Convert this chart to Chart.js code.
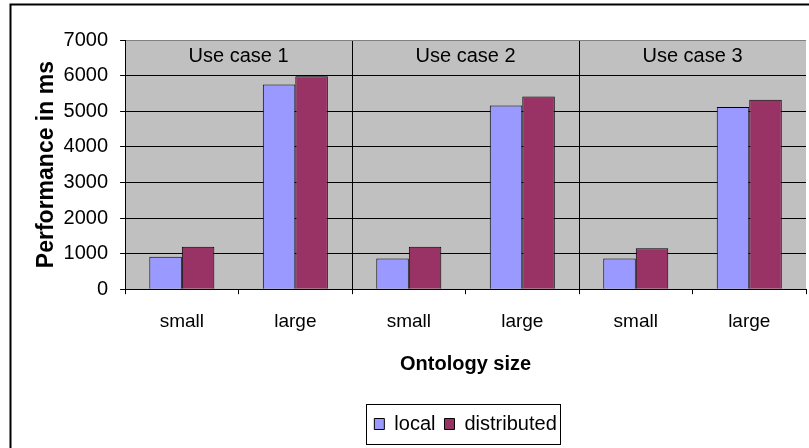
<!DOCTYPE html>
<html>
<head>
<meta charset="utf-8">
<script src="https://cdn.jsdelivr.net/npm/chart.js@4"></script>
<style>
  html, body { margin: 0; padding: 0; background: #fff; overflow: hidden; }
  #wrap { width: 809px; height: 448px; position: relative; }
</style>
</head>
<body>
<div id="wrap"><canvas id="myChart"></canvas></div>
<script>
const labels = ['small', 'large', 'small', 'large', 'small', 'large'];
const useCases = ['Use case 1', 'Use case 2', 'Use case 3'];
const local = [910, 5750, 860, 5160, 860, 5120];
const distributed = [1190, 5980, 1190, 5410, 1150, 5320];
const yMax = 7000;
const yStep = 1000;

const font = 'Liberation Sans, Arial, sans-serif';

// grey plot area
const plotBg = {
    id: 'plotBg',
    beforeDraw(chart) {
        const a = chart.chartArea, ctx = chart.ctx;
        ctx.save();
        ctx.fillStyle = '#c0c0c0';
        ctx.fillRect(a.left, a.top, a.right - a.left, a.bottom - a.top);
        ctx.restore();
    }
};

// "Use case n" headers + outer frame + legend box
const extras = {
    id: 'extras',
    afterDraw(chart) {
        const ctx = chart.ctx, a = chart.chartArea, x = chart.scales.x;
        ctx.save();
        ctx.fillStyle = '#000';
        ctx.font = '20px ' + font;
        ctx.textAlign = 'center';
        ctx.textBaseline = 'middle';
        useCases.forEach((u, i) => {
            const cx = (x.getPixelForValue(2 * i) + x.getPixelForValue(2 * i + 1)) / 2;
            ctx.fillText(u, cx, a.top + 16);
        });

        // outer chart frame
        ctx.strokeStyle = '#000';
        ctx.lineWidth = 2;
        ctx.beginPath();
        ctx.moveTo(10.5, 460);
        ctx.lineTo(10.5, 4.5);
        ctx.lineTo(820, 4.5);
        ctx.stroke();

        // legend frame
        const hb = chart.legend.legendHitBoxes;
        if (hb && hb.length) {
            const l = Math.min(...hb.map(h => h.left)) - 8;
            const r = Math.max(...hb.map(h => h.left + h.width)) + 4;
            const cy = hb[0].top + hb[0].height / 2;
            ctx.lineWidth = 1;
            ctx.strokeStyle = '#000';
            ctx.strokeRect(Math.round(l) + 0.5, Math.round(cy - 20) + 0.5, Math.round(r - l), 40);
        }
        ctx.restore();
    }
};

const data = {
    labels: labels,
    datasets: [{
        label: 'local',
        data: local,
        backgroundColor: '#9999ff',
        borderColor: '#000',
        borderWidth: 1
    }, {
        label: 'distributed',
        data: distributed,
        backgroundColor: '#993366',
        borderColor: '#000',
        borderWidth: 1
    }]
};

const config = {
    type: 'bar',
    data: data,
    plugins: [plotBg, extras],
    options: {
        responsive: true,
        maintainAspectRatio: false,
        animation: false,
        layout: { padding: { left: 33, right: 3, top: 40, bottom: 4 } },
        datasets: {
            bar: { categoryPercentage: 0.573, barPercentage: 1 }
        },
        scales: {
            x: {
                offset: true,
                grid: {
                    offset: true,
                    drawOnChartArea: true,
                    color: ctx => (ctx.index === 2 || ctx.index === 4) ? '#000' : (ctx.index === labels.length ? '#808080' : 'rgba(0,0,0,0)'),
                    tickColor: '#000',
                    tickLength: 5
                },
                border: { color: '#000' },
                ticks: { color: '#000', font: { family: font, size: 19 }, padding: 16 },
                title: {
                    display: true,
                    text: 'Ontology size',
                    color: '#000',
                    font: { family: font, size: 20, weight: 'bold' },
                    padding: { top: 3, bottom: 29 }
                }
            },
            y: {
                min: 0,
                max: yMax,
                ticks: {
                    stepSize: yStep,
                    color: '#000',
                    font: { family: font, size: 20 },
                    padding: 12,
                    callback: v => String(v)
                },
                grid: {
                    color: ctx => (ctx.tick && ctx.tick.value === yMax) ? '#808080' : '#000',
                    tickColor: '#000',
                    tickLength: 5
                },
                border: { color: '#000' },
                title: {
                    display: true,
                    text: 'Performance in ms',
                    color: '#000',
                    font: { family: font, size: 23, weight: 'bold' },
                    padding: { top: 0, bottom: -9 }
                }
            }
        },
        plugins: {
            legend: {
                position: 'bottom',
                fullSize: false,
                labels: {
                    color: '#000',
                    font: { family: font, size: 20 },
                    boxWidth: 10,
                    boxHeight: 11,
                    padding: 9
                }
            },
            tooltip: { enabled: false }
        }
    }
};

new Chart(document.getElementById('myChart'), config);
</script>
</body>
</html>
